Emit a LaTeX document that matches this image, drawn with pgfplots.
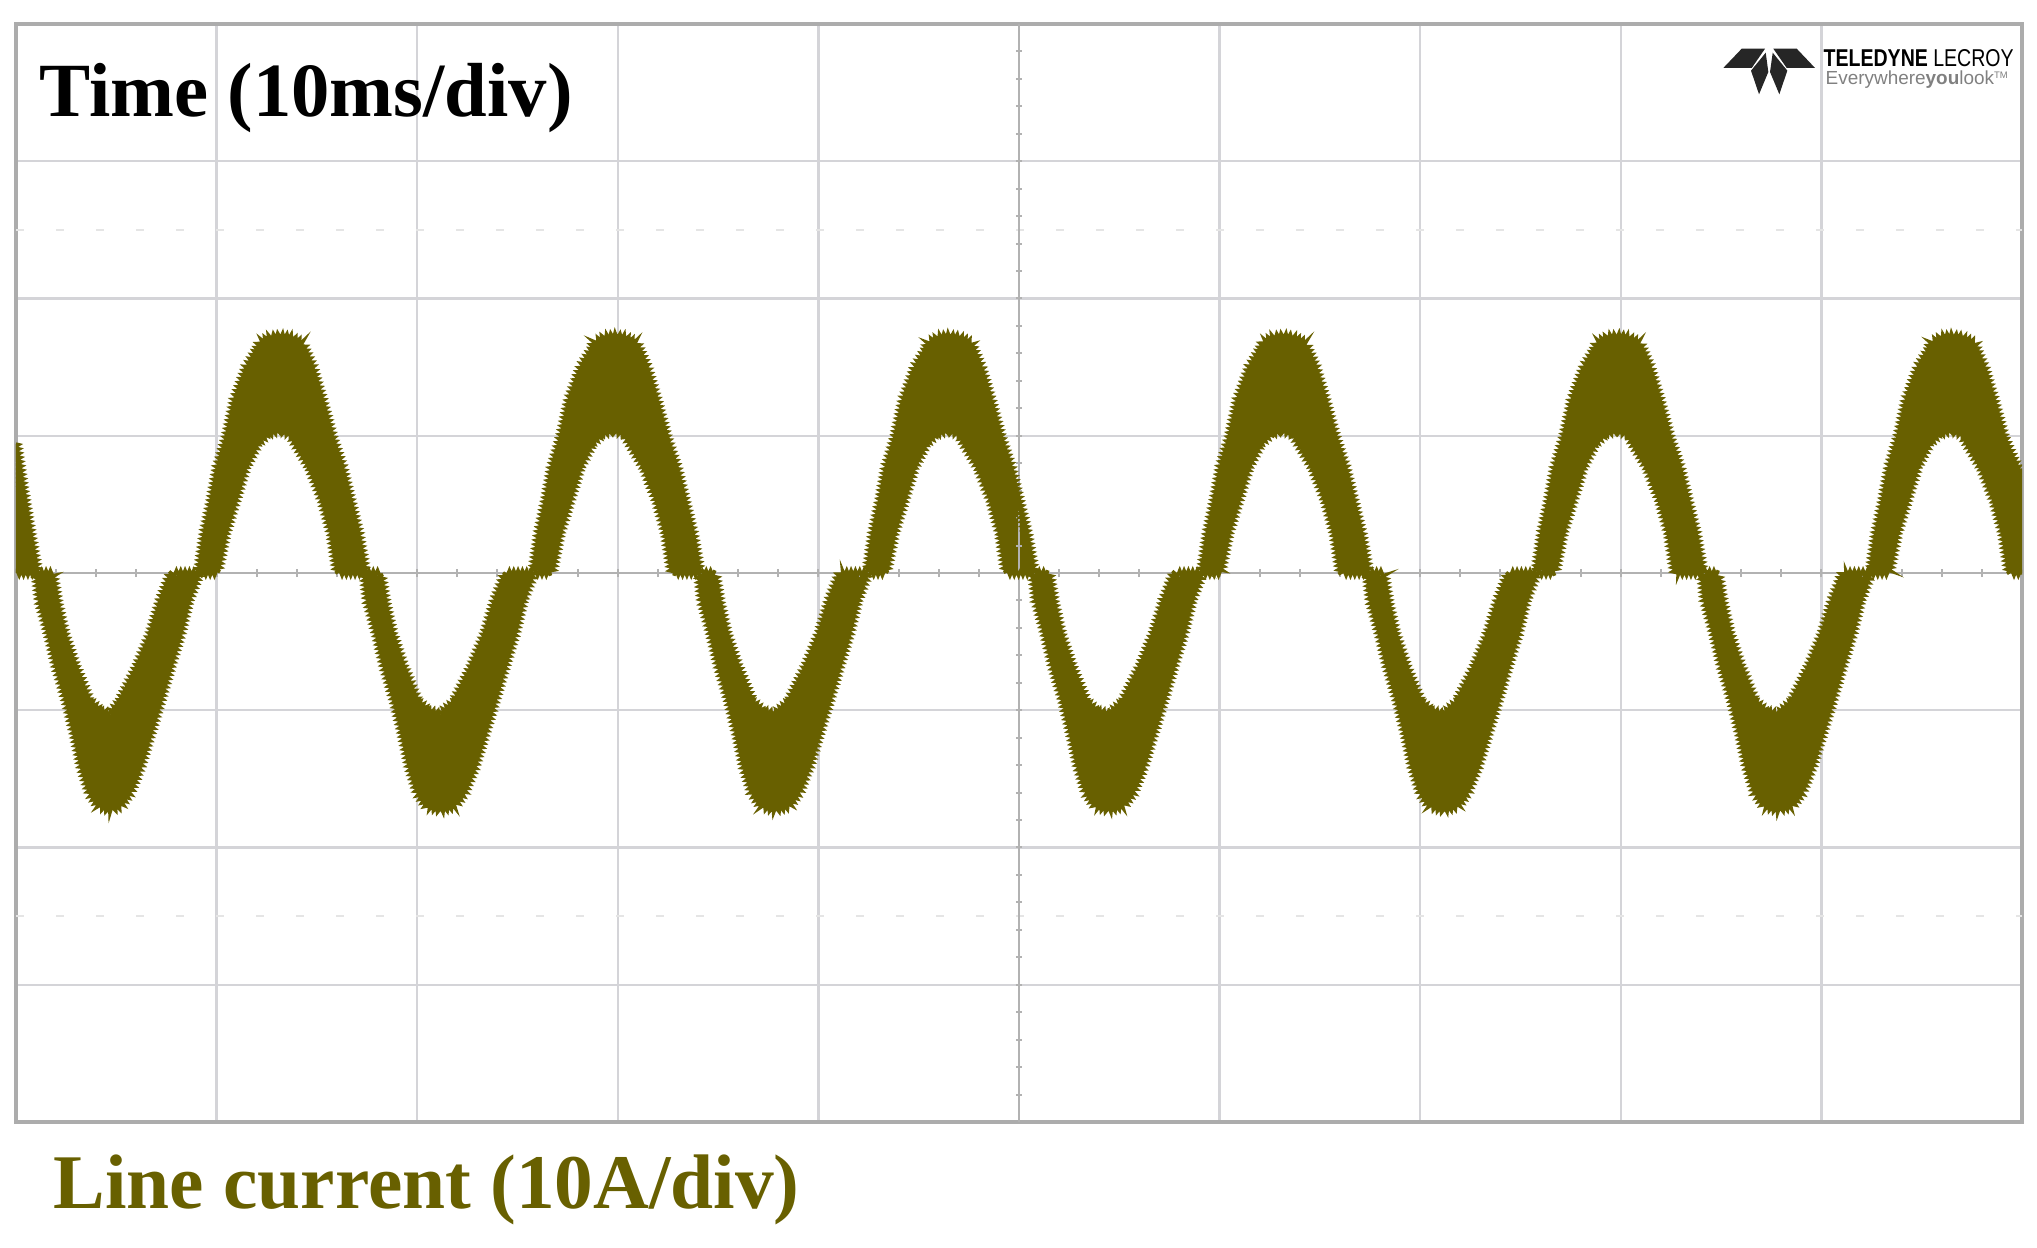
\documentclass[border=0pt]{standalone}
\usepackage{pgfplots}
\pgfplotsset{compat=1.18}
\usepgfplotslibrary{fillbetween}
\usetikzlibrary{decorations.pathmorphing}
\usepackage{pgfplotstable}
\usepackage{fontspec}
\setmainfont{Liberation Serif}
\newfontfamily\logofont{Liberation Sans}
\definecolor{wave}{RGB}{104,96,0}
\definecolor{gridc}{RGB}{212,212,216}

% upper envelope of the current band (t in ms, i in A)
\pgfplotstableread{
t i
0 9.4
0.35 6.0
0.70 2.9
1.05 0
1.80 0
2.05 -2.2
2.39 -4.4
2.94 -6.8
3.64 -9.3
4.15 -10.0
4.70 -10.3
5.18 -9.4
6.06 -6.8
6.73 -4.4
7.23 -2.0
7.75 0
9.10 0
9.17 0.4
9.42 2.9
9.77 5.3
10.07 7.7
10.52 9.9
10.92 12.6
11.52 15.0
12.01 16.2
12.16 16.8
12.66 17.2
13.16 17.3
13.66 17.2
14.26 16.8
14.41 16.2
14.76 15.0
15.25 12.6
15.75 9.9
16.25 7.7
16.65 5.3
17.05 2.9
17.40 0
18.15 0
18.40 -2.2
18.74 -4.4
19.29 -6.8
19.99 -9.3
20.50 -10.0
21.15 -10.3
21.85 -9.4
22.73 -6.8
23.40 -4.4
23.90 -2.0
24.42 0
25.77 0
25.84 0.4
26.09 2.9
26.44 5.3
26.74 7.7
27.19 9.9
27.59 12.6
28.19 15.0
28.68 16.2
28.83 16.8
29.33 17.2
29.83 17.3
30.33 17.2
30.93 16.8
31.08 16.2
31.43 15.0
31.92 12.6
32.42 9.9
32.92 7.7
33.32 5.3
33.72 2.9
34.07 0
34.82 0
35.07 -2.2
35.41 -4.4
35.96 -6.8
36.66 -9.3
37.17 -10.0
37.82 -10.3
38.52 -9.4
39.40 -6.8
40.07 -4.4
40.57 -2.0
41.09 0
42.43 0
42.50 0.4
42.75 2.9
43.10 5.3
43.40 7.7
43.85 9.9
44.25 12.6
44.85 15.0
45.34 16.2
45.49 16.8
45.99 17.2
46.49 17.3
46.99 17.2
47.59 16.8
47.74 16.2
48.09 15.0
48.58 12.6
49.08 9.9
49.58 7.7
49.98 5.3
50.38 2.9
50.73 0
51.48 0
51.73 -2.2
52.07 -4.4
52.62 -6.8
53.32 -9.3
53.83 -10.0
54.48 -10.3
55.18 -9.4
56.06 -6.8
56.73 -4.4
57.23 -2.0
57.75 0
59.10 0
59.17 0.4
59.42 2.9
59.77 5.3
60.07 7.7
60.52 9.9
60.92 12.6
61.52 15.0
62.01 16.2
62.16 16.8
62.66 17.2
63.16 17.3
63.66 17.2
64.26 16.8
64.41 16.2
64.76 15.0
65.25 12.6
65.75 9.9
66.25 7.7
66.65 5.3
67.05 2.9
67.40 0
68.15 0
68.40 -2.2
68.74 -4.4
69.29 -6.8
69.99 -9.3
70.50 -10.0
71.15 -10.3
71.85 -9.4
72.73 -6.8
73.40 -4.4
73.90 -2.0
74.42 0
75.77 0
75.84 0.4
76.09 2.9
76.44 5.3
76.74 7.7
77.19 9.9
77.59 12.6
78.19 15.0
78.68 16.2
78.83 16.8
79.33 17.2
79.83 17.3
80.33 17.2
80.93 16.8
81.08 16.2
81.43 15.0
81.92 12.6
82.42 9.9
82.92 7.7
83.32 5.3
83.72 2.9
84.07 0
84.82 0
85.07 -2.2
85.41 -4.4
85.96 -6.8
86.66 -9.3
87.17 -10.0
87.82 -10.3
88.52 -9.4
89.40 -6.8
90.07 -4.4
90.57 -2.0
91.09 0
92.43 0
92.50 0.4
92.75 2.9
93.10 5.3
93.40 7.7
93.85 9.9
94.25 12.6
94.85 15.0
95.34 16.2
95.49 16.8
95.99 17.2
96.49 17.3
96.99 17.2
97.59 16.8
97.74 16.2
98.09 15.0
98.58 12.6
99.08 9.9
99.58 8.2
100 7.0
}\upperband

% lower envelope of the current band
\pgfplotstableread{
t i
0 0
1.05 0
1.20 -2.0
1.65 -4.4
2.04 -6.8
2.54 -9.3
2.94 -11.7
3.29 -14.1
3.69 -16.0
4.14 -17.0
4.70 -17.3
5.18 -17.0
5.66 -16.0
6.18 -14.1
6.68 -11.7
7.18 -9.3
7.68 -6.8
8.18 -4.4
8.58 -2.0
9.10 0
10.02 0
10.42 2.9
10.92 5.3
11.42 7.7
12.01 9.4
12.50 10.1
13.10 10.4
13.70 10.1
14.01 9.3
14.66 7.7
15.30 5.3
15.75 2.9
16.05 0
17.40 0
17.55 -2.0
18.00 -4.4
18.39 -6.8
18.89 -9.3
19.29 -11.7
19.64 -14.1
20.04 -16.0
20.49 -17.0
21.15 -17.3
21.85 -17.0
22.33 -16.0
22.85 -14.1
23.35 -11.7
23.85 -9.3
24.35 -6.8
24.85 -4.4
25.25 -2.0
25.77 0
26.69 0
27.09 2.9
27.59 5.3
28.09 7.7
28.68 9.4
29.17 10.1
29.77 10.4
30.37 10.1
30.68 9.3
31.33 7.7
31.97 5.3
32.42 2.9
32.72 0
34.07 0
34.22 -2.0
34.67 -4.4
35.06 -6.8
35.56 -9.3
35.96 -11.7
36.31 -14.1
36.71 -16.0
37.16 -17.0
37.82 -17.3
38.52 -17.0
39.00 -16.0
39.52 -14.1
40.02 -11.7
40.52 -9.3
41.02 -6.8
41.52 -4.4
41.92 -2.0
42.43 0
43.35 0
43.75 2.9
44.25 5.3
44.75 7.7
45.34 9.4
45.83 10.1
46.43 10.4
47.03 10.1
47.34 9.3
47.99 7.7
48.63 5.3
49.08 2.9
49.38 0
50.73 0
50.88 -2.0
51.33 -4.4
51.72 -6.8
52.22 -9.3
52.62 -11.7
52.97 -14.1
53.37 -16.0
53.82 -17.0
54.48 -17.3
55.18 -17.0
55.66 -16.0
56.18 -14.1
56.68 -11.7
57.18 -9.3
57.68 -6.8
58.18 -4.4
58.58 -2.0
59.10 0
60.02 0
60.42 2.9
60.92 5.3
61.42 7.7
62.01 9.4
62.50 10.1
63.10 10.4
63.70 10.1
64.01 9.3
64.66 7.7
65.30 5.3
65.75 2.9
66.05 0
67.40 0
67.55 -2.0
68.00 -4.4
68.39 -6.8
68.89 -9.3
69.29 -11.7
69.64 -14.1
70.04 -16.0
70.49 -17.0
71.15 -17.3
71.85 -17.0
72.33 -16.0
72.85 -14.1
73.35 -11.7
73.85 -9.3
74.35 -6.8
74.85 -4.4
75.25 -2.0
75.77 0
76.69 0
77.09 2.9
77.59 5.3
78.09 7.7
78.68 9.4
79.17 10.1
79.77 10.4
80.37 10.1
80.68 9.3
81.33 7.7
81.97 5.3
82.42 2.9
82.72 0
84.07 0
84.22 -2.0
84.67 -4.4
85.06 -6.8
85.56 -9.3
85.96 -11.7
86.31 -14.1
86.71 -16.0
87.16 -17.0
87.82 -17.3
88.52 -17.0
89.00 -16.0
89.52 -14.1
90.02 -11.7
90.52 -9.3
91.02 -6.8
91.52 -4.4
91.92 -2.0
92.43 0
93.35 0
93.75 2.9
94.25 5.3
94.75 7.7
95.34 9.4
95.83 10.1
96.43 10.4
97.03 10.1
97.34 9.3
97.99 7.7
98.63 5.3
99.08 2.9
99.38 0
100 0
}\lowerband

\begin{document}
\begin{tikzpicture}
\begin{axis}[
  at={(0pt,0pt)}, anchor=south west,
  scale only axis,
  width=601.8pt, height=329.4pt,
  xmin=0, xmax=100, ymin=-40, ymax=40,
  xtick={0,10,...,100}, ytick={-40,-30,...,40},
  xticklabels={}, yticklabels={},
  major tick length=0pt,
  grid=major,
  major grid style={gridc, line width=0.7pt},
  axis line style={draw=gray!65, line width=1.1pt},
]
% faint dotted rows
\draw[gray!20, line width=0.8pt, dash pattern=on 2.5pt off 9.5pt, dash phase=-12pt] (axis cs:0,25) -- (axis cs:100,25);
\draw[gray!20, line width=0.8pt, dash pattern=on 2.5pt off 9.5pt, dash phase=-12pt] (axis cs:0,-25) -- (axis cs:100,-25);
% centre cross with small ticks
\draw[gray!60, line width=0.8pt] (axis cs:0,0) -- (axis cs:100,0);
\draw[gray!60, line width=0.8pt] (axis cs:50,-40) -- (axis cs:50,40);
\pgfplotsinvokeforeach{2,4,...,98}{
  \draw[gray!60, line width=0.6pt] (axis cs:#1,-0.3) -- (axis cs:#1,0.3);
}
\pgfplotsinvokeforeach{-38,-36,...,38}{
  \draw[gray!60, line width=0.6pt] (axis cs:49.85,#1) -- (axis cs:50.15,#1);
}
% current band
\addplot[name path=U, draw=none] table[x=t, y=i] {\upperband};
\addplot[name path=L, draw=none] table[x=t, y=i] {\lowerband};
\addplot[wave] fill between[of=U and L];
\addplot[wave, line width=1.0pt, decorate, decoration={zigzag, segment length=1.3pt, amplitude=0.8pt}] table[x=t, y=i] {\upperband};
\addplot[wave, line width=1.0pt, decorate, decoration={zigzag, segment length=1.3pt, amplitude=0.8pt}] table[x=t, y=i] {\lowerband};
\end{axis}
\pgfresetboundingbox
\path[use as bounding box] (-4.8pt,-37.8pt) rectangle (606.3pt,336.6pt);
\begin{scope}[shift={(-4.8pt,336.6pt)}, x=0.3pt, y=-0.3pt]
\node[anchor=base west, inner sep=0pt, font=\fontsize{23.0}{24}\selectfont\bfseries] at (39,117) {Time (10ms/div)};
\node[anchor=base west, inner sep=0pt, text=wave, font=\fontsize{23.2}{24}\selectfont\bfseries] at (53,1208) {Line current (10A/div)};
% logo
\fill[black!85] (1723.3,68) -- (1741.7,48.7) -- (1765,48.7) -- (1751.7,68) -- cycle;
\fill[black!85] (1815,68) -- (1796.7,48.7) -- (1773.3,48.7) -- (1786.7,68) -- cycle;
\fill[black!85] (1765.7,52.7) -- (1751,70.7) -- (1759,94.3) -- (1768.3,72) -- cycle;
\fill[black!85] (1772.7,52.7) -- (1787.3,70.7) -- (1779.3,94.3) -- (1770,72) -- cycle;
\node[anchor=base west, inner sep=0pt] at (1823,67) {\resizebox{57pt}{5.1pt}{\logofont\textbf{TELEDYNE} LECROY}};
\node[anchor=base west, inner sep=0pt] at (1825,85) {\resizebox{54.9pt}{!}{\logofont\color{gray}Everywhere\textbf{you}look\textsuperscript{\tiny TM}}};
\end{scope}
\end{tikzpicture}
\end{document}
